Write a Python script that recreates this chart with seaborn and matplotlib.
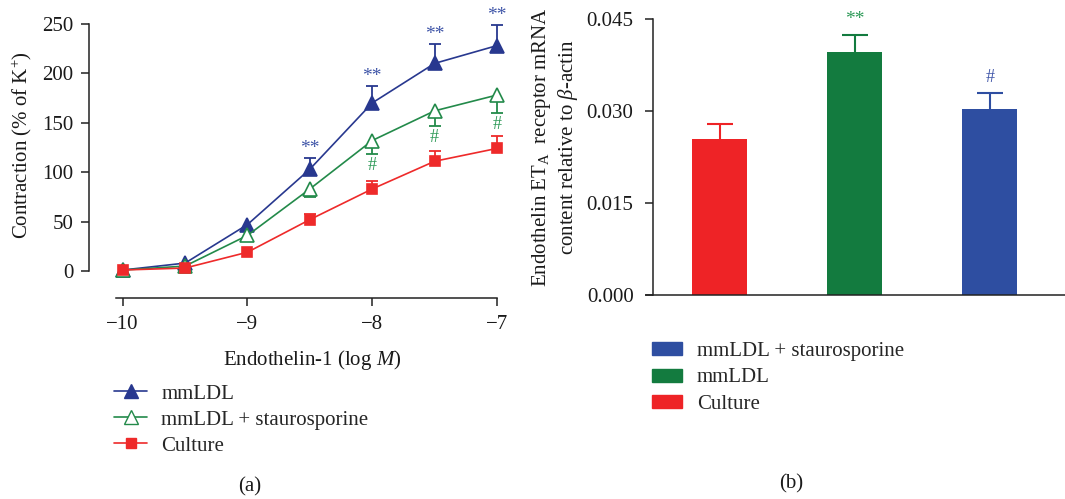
import numpy as np
import matplotlib
matplotlib.use("Agg")
import matplotlib.pyplot as plt
import matplotlib.patches as mpatches
from matplotlib.lines import Line2D
import seaborn as sns

# ---------------- data ----------------
x_log = [-10, -9.5, -9, -8.5, -8, -7.5, -7]
mmldl = [1, 8, 47, 103, 170, 210, 228]
mmldl_err = [0, 0, 0, 11, 17, 20, 21]
stauro = [1, 5, 36, 83, 132, 162, 178]
stauro_err = [0, 0, 0, 8, 14, 15, 18]
culture = [1, 3, 19, 52, 83, 111, 124]
culture_err = [0, 0, 0, 6, 8, 10, 13]
star_idx = [3, 4, 5, 6]   # "**" on mmLDL
hash_idx = [4, 5, 6]      # "#" on mmLDL + staurosporine

bar_cats = ["Culture", "mmLDL", "mmLDL + staurosporine"]
bar_vals = [0.0254, 0.0396, 0.0304]
bar_errs = [0.0025, 0.0028, 0.0025]
bar_marks = ["", "**", "#"]

left_yticks = [0, 50, 100, 150, 200, 250]
left_xticks = [-10, -9, -8, -7]
right_yticks = [0.0, 0.015, 0.030, 0.045]
right_yticklabels = ["0.000", "0.015", "0.030", "0.045"]

# ---------------- style ----------------
sns.set_theme(style="ticks")
plt.rcParams["font.family"] = ["Liberation Serif", "DejaVu Serif"]
plt.rcParams["mathtext.fontset"] = "custom"
plt.rcParams["mathtext.rm"] = "Liberation Serif"
plt.rcParams["mathtext.it"] = "Liberation Serif:italic"
plt.rcParams["axes.unicode_minus"] = True

FS = 15
TXT = "#1a1a1a"
BLUE_L, GREEN_L, RED_L = "#28388F", "#238A4A", "#EE2A2A"
BLUE_T, GREEN_T = "#3F55A8", "#2E9A58"
RED_B, GREEN_B, BLUE_B = "#EE2326", "#137B3F", "#2E4EA1"

fig = plt.figure(figsize=(10.65, 4.99), dpi=100)
ax1 = fig.add_axes([89 / 1065, 1 - 298 / 499, 416 / 1065, 288 / 499])
ax2 = fig.add_axes([653 / 1065, 1 - 295 / 499, 412 / 1065, 285 / 499])


def one_sided(ax, xs, ys, es, col, up, lw, cap):
    yerr = [np.zeros(len(es)), es] if up else [es, np.zeros(len(es))]
    _, caps, _ = ax.errorbar(xs, ys, yerr=yerr, fmt="none", ecolor=col,
                             elinewidth=lw, capsize=cap, capthick=lw, zorder=2)
    # hide the cap sitting on the data value
    if len(caps) == 2:
        caps[0 if up else 1].set_visible(False)


# ---------------- panel (a) ----------------
series = [
    ("mmLDL", mmldl, mmldl_err, BLUE_L, "^", BLUE_L, 10, True),
    ("mmLDL + staurosporine", stauro, stauro_err, GREEN_L, "^", "white", 10, False),
    ("Culture", culture, culture_err, RED_L, "s", RED_L, 7, True),
]
for name, vals, errs, col, mk, mfc, ms, up in series:
    xs = [x for x, e in zip(x_log, errs) if e > 0]
    ys = [v for v, e in zip(vals, errs) if e > 0]
    es = [e for e in errs if e > 0]
    one_sided(ax1, xs, ys, es, col, up, 1.3, 4.3)
    sns.lineplot(x=x_log, y=vals, ax=ax1, color=col, marker=mk, markersize=ms,
                 markerfacecolor=mfc, markeredgecolor=col, markeredgewidth=1.2,
                 linewidth=1.2, label=name, legend=False, zorder=3)

for i in star_idx:
    ax1.text(x_log[i], mmldl[i] + mmldl_err[i] + 1, "**", color=BLUE_T,
             ha="center", va="bottom", fontsize=FS - 1)
for i in hash_idx:
    ax1.text(x_log[i], stauro[i] - stauro_err[i] - 3, "#", color=GREEN_T,
             ha="center", va="top", fontsize=FS - 2)

ax1.set_xlim(-10.27, -6.936)
ax1.set_ylim(-27.3, 264)
ax1.set_yticks(left_yticks)
ax1.set_xticks(left_xticks)
ax1.spines["top"].set_visible(False)
ax1.spines["right"].set_visible(False)
ax1.spines["left"].set_bounds(0, 250)
ax1.spines["bottom"].set_bounds(-10.05, -7)
for sp in ("left", "bottom"):
    ax1.spines[sp].set_color("#222222")
    ax1.spines[sp].set_linewidth(1.1)
ax1.tick_params(axis="both", direction="out", length=6, width=1.1,
                color="#222222", labelsize=FS, labelcolor=TXT)
ax1.tick_params(axis="y", pad=5)
ax1.tick_params(axis="x", pad=6)
ax1.set_xlabel(r"Endothelin-1 (log $\it{M}$)", fontsize=FS, color=TXT)
ax1.xaxis.set_label_coords((312 - 89) / 416, (298 - 348) / 288)
ax1.set_ylabel(r"Contraction (% of K$^{+}$)", fontsize=FS, color=TXT)
ax1.yaxis.set_label_coords((34 - 89) / 416, (298 - 145) / 288)
ax1.grid(False)

handles_a = [
    Line2D([0], [0], color=BLUE_L, marker="^", markersize=10, markerfacecolor=BLUE_L,
           markeredgecolor=BLUE_L, linewidth=1.2),
    Line2D([0], [0], color=GREEN_L, marker="^", markersize=10, markerfacecolor="white",
           markeredgecolor=GREEN_L, linewidth=1.2),
    Line2D([0], [0], color=RED_L, marker="s", markersize=7, markerfacecolor=RED_L,
           markeredgecolor=RED_L, linewidth=1.2),
]
fig.legend(handles_a, ["mmLDL", "mmLDL + staurosporine", "Culture"],
           loc="upper left", bbox_to_anchor=(114 / 1065, 1 - 384 / 499),
           frameon=False, fontsize=FS, handlelength=1.6, handletextpad=0.67,
           labelspacing=0.31, borderpad=0, borderaxespad=0)

# ---------------- panel (b) ----------------
bar_cols = [RED_B, GREEN_B, BLUE_B]
sns.barplot(x=bar_cats, y=bar_vals, hue=bar_cats, palette=bar_cols, ax=ax2,
            width=0.407, legend=False, saturation=1, edgecolor="none")
for i, (v, e, c) in enumerate(zip(bar_vals, bar_errs, bar_cols)):
    one_sided(ax2, [i], [v], [e], c, True, 1.5, 9.5)
mark_cols = [RED_B, GREEN_T, BLUE_T]
for i, (v, e, m) in enumerate(zip(bar_vals, bar_errs, bar_marks)):
    if m:
        ax2.text(i, v + e + 0.0012, m, color=mark_cols[i], ha="center",
                 va="bottom", fontsize=FS - 2 if m == "#" else FS - 1)

ax2.set_xlim(-0.496, 2.556)
ax2.set_ylim(0, 0.04647)
ax2.set_yticks(right_yticks)
ax2.set_yticklabels(right_yticklabels)
ax2.set_xticks([])
ax2.set_xlabel("")
ax2.spines["top"].set_visible(False)
ax2.spines["right"].set_visible(False)
ax2.spines["left"].set_bounds(0, 0.045)
ax2.spines["bottom"].set_bounds(-0.548, 2.556)
for sp in ("left", "bottom"):
    ax2.spines[sp].set_color("#222222")
    ax2.spines[sp].set_linewidth(1.1)
ax2.tick_params(axis="y", direction="out", length=6, width=1.1, color="#222222",
                labelsize=FS, labelcolor=TXT, pad=8)
ax2.set_ylabel("Endothelin ET$_{\\mathrm{A}}$  receptor mRNA\ncontent relative to $\\beta$-actin",
               fontsize=FS, color=TXT, linespacing=1.15)
ax2.yaxis.set_label_coords((580 - 653) / 412, (295 - 147) / 285)
ax2.grid(False)

handles_b = [mpatches.Patch(color=BLUE_B), mpatches.Patch(color=GREEN_B),
             mpatches.Patch(color=RED_B)]
fig.legend(handles_b, ["mmLDL + staurosporine", "mmLDL", "Culture"],
           loc="upper left", bbox_to_anchor=(652 / 1065, 1 - 342 / 499),
           frameon=False, fontsize=FS, handlelength=1.44, handleheight=0.58,
           handletextpad=0.72, labelspacing=0.36, borderpad=0, borderaxespad=0)

fig.text(250 / 1065, 1 - 487 / 499, "(a)", ha="center", va="center",
         fontsize=FS, color=TXT)
fig.text(791 / 1065, 1 - 484 / 499, "(b)", ha="center", va="center",
         fontsize=FS, color=TXT)

fig.savefig("out.png", dpi=100)
